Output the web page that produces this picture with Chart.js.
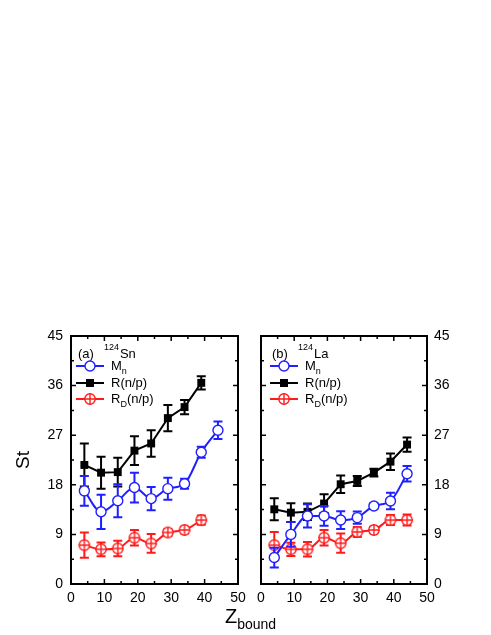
<!DOCTYPE html>
<html><head><meta charset="utf-8">
<script src="https://cdn.jsdelivr.net/npm/chart.js@4/dist/chart.umd.min.js"></script>
<style>
html,body{margin:0;padding:0;background:#fff;}
#wrap{position:relative;width:491px;height:635px;overflow:hidden;font-family:"Liberation Sans",Arial,sans-serif;}
canvas{position:absolute;left:0;top:0;}
#xt{position:absolute;left:0;width:491px;top:604px;text-align:center;font-size:20px;color:#000;padding-left:10px;box-sizing:border-box;line-height:24px;}
#xt sub{font-size:14px;vertical-align:-6px;}
</style></head>
<body><div id="wrap">
<canvas id="c1" width="491" height="635"></canvas>
<canvas id="c2" width="491" height="635"></canvas>
<div id="xt">Z<sub>bound</sub></div>
</div>
<script>
// ---- data ----
const zBound = [4, 9, 14, 19, 24, 29, 34, 39, 44];
const yTicks = [0, 9, 18, 27, 36, 45];
const xTicks = [0, 10, 20, 30, 40, 50];
// panel (a) 124Sn
const mnA    = [16.9, 13.1, 15.1, 17.5, 15.5, 17.3, 18.2, 23.9, 27.9];
const mnAErr = [2.7, 3.1, 3.0, 2.7, 2.1, 2.0, 0.9, 1.0, 1.6];
const rA     = [21.6, 20.2, 20.3, 24.2, 25.5, 30.1, 32.1, 36.5];
const rAErr  = [3.9, 2.9, 2.6, 2.6, 2.4, 2.4, 1.3, 1.2];
const rdA    = [7.05, 6.3, 6.45, 8.4, 7.35, 9.35, 9.8, 11.6];
const rdAErr = [2.3, 1.25, 1.4, 1.4, 1.7, 0.6, 0.6, 0.85];
// panel (b) 124La
const mnB    = [4.8, 9.0, 12.35, 12.35, 11.6, 12.05, 14.15, 15.05, 20.0];
const mnBErr = [1.8, 2.25, 2.1, 1.8, 1.6, 1.1, 0.5, 1.5, 1.4];
const rB     = [13.55, 12.95, 13.1, 14.6, 18.1, 18.7, 20.2, 22.2, 25.3];
const rBErr  = [2.0, 1.7, 1.5, 1.7, 1.6, 0.9, 0.7, 1.5, 1.3];
const rdB    = [7.05, 6.3, 6.3, 8.4, 7.4, 9.45, 9.8, 11.6, 11.6];
const rdBErr = [2.4, 1.2, 1.3, 1.4, 1.75, 0.9, 0.6, 0.9, 1.0];

const BLUE = '#1f1fff', RED = '#ff1a1a', BLACK = '#000';
const FONT = '"Liberation Sans", Arial, sans-serif';

// circle-with-cross marker
function crossCircle(){
  const c = document.createElement('canvas'); c.width = 14; c.height = 14;
  const g = c.getContext('2d');
  g.fillStyle = '#fff'; g.strokeStyle = RED; g.lineWidth = 1.4;
  g.beginPath(); g.arc(7, 7, 5.2, 0, Math.PI*2); g.fill(); g.stroke();
  g.beginPath(); g.moveTo(7, 1.5); g.lineTo(7, 12.5); g.moveTo(1.5, 7); g.lineTo(12.5, 7); g.stroke();
  return c;
}
const ccMarker = crossCircle();

function pts(vals){ return vals.map((v, i) => ({x: zBound[i], y: v})); }

const errPlugin = {
  id: 'errbars',
  beforeDatasetDraw(chart, args){
    const ds = chart.data.datasets[args.index];
    if (!ds.errors) return;
    const {ctx, scales: {x, y}} = chart;
    ctx.save(); ctx.strokeStyle = ds.borderColor; ctx.lineWidth = 2;
    ds.data.forEach((p, i) => {
      const e = ds.errors[i]; const px = x.getPixelForValue(p.x);
      const t = y.getPixelForValue(p.y + e), b = y.getPixelForValue(p.y - e);
      ctx.beginPath();
      ctx.moveTo(px, t); ctx.lineTo(px, b);
      ctx.moveTo(px - 4.5, t); ctx.lineTo(px + 4.5, t);
      ctx.moveTo(px - 4.5, b); ctx.lineTo(px + 4.5, b);
      ctx.stroke();
    });
    ctx.restore();
  }
};

const framePlugin = {
  id: 'frame',
  afterDraw(chart, args, opts){
    const {ctx, chartArea: a, scales: {x, y}} = chart;
    ctx.save();
    ctx.strokeStyle = '#000'; ctx.lineWidth = 2;
    ctx.strokeRect(a.left, a.top, a.right - a.left, a.bottom - a.top);
    ctx.lineWidth = 1.5;
    ctx.beginPath();
    for (let v = 5; v < 50; v += 5) {
      const px = x.getPixelForValue(v); const L = (v % 10 === 0) ? 5 : 3;
      ctx.moveTo(px, a.bottom); ctx.lineTo(px, a.bottom - L);
      ctx.moveTo(px, a.top); ctx.lineTo(px, a.top + L);
    }
    for (let v = 4.5; v < 45; v += 4.5) {
      const py = y.getPixelForValue(v); const L = (Math.round(v*2) % 18 === 0) ? 5 : 3;
      ctx.moveTo(a.left, py); ctx.lineTo(a.left + L, py);
      ctx.moveTo(a.right, py); ctx.lineTo(a.right - L, py);
    }
    ctx.stroke();
    // legend
    const lx = a.left + opts.dx;
    ctx.fillStyle = '#000'; ctx.textBaseline = 'middle'; ctx.textAlign = 'left';
    ctx.font = '13px ' + FONT;
    ctx.fillText(opts.tag, lx + 2, a.top + 18);
    const tw = ctx.measureText(opts.tag).width;
    ctx.font = '9px ' + FONT;
    ctx.fillText(opts.mass, lx + tw + 12, a.top + 12);
    const mw = ctx.measureText(opts.mass).width;
    ctx.font = '13px ' + FONT;
    ctx.fillText(opts.nuc, lx + tw + 13 + mw, a.top + 18);
    const rows = [
      {y: 30, col: BLUE, m: 'circ', main: 'M', sub: 'n', rest: ''},
      {y: 47, col: BLACK, m: 'sq', main: 'R(n/p)', sub: '', rest: ''},
      {y: 63, col: RED, m: 'cc', main: 'R', sub: 'D', rest: '(n/p)'}
    ];
    rows.forEach(r => {
      const yy = a.top + r.y;
      ctx.strokeStyle = r.col; ctx.lineWidth = 2;
      ctx.beginPath(); ctx.moveTo(lx, yy); ctx.lineTo(lx + 28, yy); ctx.stroke();
      const cx = lx + 14;
      if (r.m === 'circ') {
        ctx.fillStyle = '#fff'; ctx.lineWidth = 1.4;
        ctx.beginPath(); ctx.arc(cx, yy, 5, 0, Math.PI*2); ctx.fill(); ctx.stroke();
      } else if (r.m === 'sq') {
        ctx.fillStyle = '#000'; ctx.fillRect(cx - 4, yy - 4, 8, 8);
      } else {
        ctx.drawImage(ccMarker, cx - 7, yy - 7);
      }
      ctx.fillStyle = '#000';
      ctx.font = '13px ' + FONT;
      let tx = lx + 35;
      ctx.fillText(r.main, tx, yy); tx += ctx.measureText(r.main).width;
      if (r.sub) { ctx.font = '9px ' + FONT; ctx.fillText(r.sub, tx, yy + 6); tx += ctx.measureText(r.sub).width; }
      if (r.rest) { ctx.font = '13px ' + FONT; ctx.fillText(r.rest, tx, yy); }
    });
    ctx.restore();
  }
};

function makeDatasets(mn, mnE, r, rE, rd, rdE){
  return [
    {data: pts(mn), errors: mnE, borderColor: BLUE, borderWidth: 2, pointStyle: 'circle', pointRadius: 5,
     pointBackgroundColor: '#fff', pointBorderColor: BLUE, pointBorderWidth: 1.4, tension: 0.35, cubicInterpolationMode: 'monotone'},
    {data: pts(r), errors: rE, borderColor: BLACK, borderWidth: 2, pointStyle: 'rect', pointRadius: 5.6,
     pointBackgroundColor: BLACK, pointBorderColor: BLACK, pointBorderWidth: 0, tension: 0},
    {data: pts(rd), errors: rdE, borderColor: RED, borderWidth: 2, pointStyle: ccMarker, pointRadius: 6,
     tension: 0.35, cubicInterpolationMode: 'monotone'}
  ];
}

function makeChart(id, side, datasets, padding, legendOpts){
  const yTitle = side === 'left';
  return new Chart(document.getElementById(id), {
    type: 'line',
    data: {datasets},
    plugins: [errPlugin, framePlugin],
    options: {
      responsive: false, animation: false, events: [],
      layout: {padding},
      plugins: {legend: {display: false}, tooltip: {enabled: false}, frame: legendOpts},
      scales: {
        x: {type: 'linear', min: 0, max: 50,
            afterBuildTicks(s){ s.ticks = xTicks.map(v => ({value: v})); },
            afterFit(s){ s.height = 30; },
            grid: {display: false, drawTicks: false}, border: {display: false},
            ticks: {padding: 6, color: '#000', font: {family: FONT, size: 14}, maxRotation: 0}},
        y: {type: 'linear', position: side, min: 0, max: 45,
            afterBuildTicks(s){ s.ticks = yTicks.map(v => ({value: v})); },
            afterFit(s){ s.width = side === 'left' ? 71 : 40; },
            grid: {display: false, drawTicks: false}, border: {display: false},
            title: {display: yTitle, text: 'St', color: '#000', font: {family: FONT, size: 19}, padding: {top: 12, bottom: 0}},
            ticks: {padding: side === 'left' ? 8 : 7, color: '#000', font: {family: FONT, size: 14}}}
      }
    }
  });
}

makeChart('c1', 'left', makeDatasets(mnA, mnAErr, rA, rAErr, rdA, rdAErr),
  {left: 0, top: 336, right: 491 - 238, bottom: 635 - 584 - 30},
  {dx: 5, tag: '(a)', mass: '124', nuc: 'Sn'});
makeChart('c2', 'right', makeDatasets(mnB, mnBErr, rB, rBErr, rdB, rdBErr),
  {left: 261, top: 336, right: 491 - 427 - 40, bottom: 635 - 584 - 30},
  {dx: 9, tag: '(b)', mass: '124', nuc: 'La'});
</script>
</body></html>
